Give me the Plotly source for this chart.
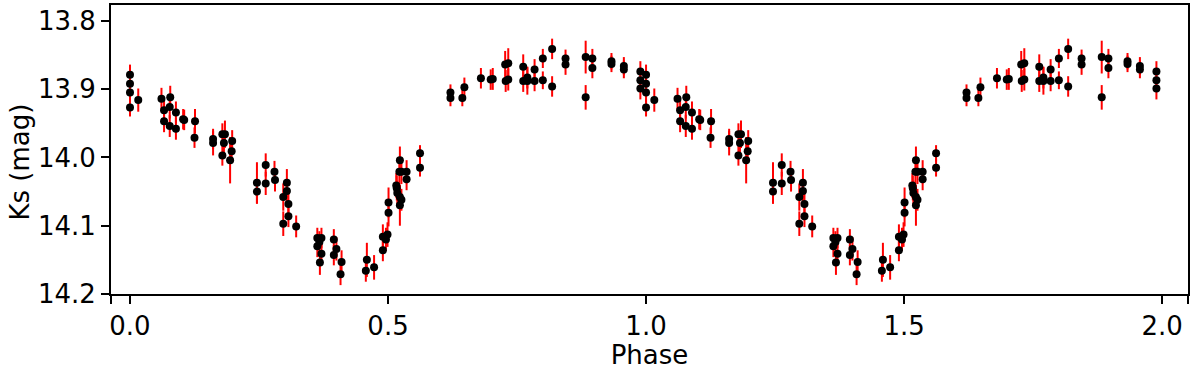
import plotly.graph_objects as go

# Folded light curve: base phase in [0,1), magnitude, error
phase = [0.000, 0.000, 0.000, 0.000, 0.016, 0.061, 0.066, 0.066, 0.078, 0.077,
         0.077, 0.089, 0.089, 0.103, 0.105, 0.126, 0.125, 0.161, 0.161, 0.179,
         0.184, 0.182, 0.179, 0.198, 0.197, 0.194, 0.246, 0.246, 0.263, 0.263,
         0.280, 0.281, 0.304, 0.304, 0.297, 0.307, 0.307, 0.297, 0.322, 0.363,
         0.371, 0.363, 0.367, 0.371, 0.368, 0.395, 0.400, 0.395, 0.410, 0.408,
         0.457, 0.459, 0.473, 0.490, 0.490, 0.496, 0.499, 0.501, 0.501, 0.516,
         0.517, 0.523, 0.522, 0.526, 0.518, 0.523, 0.526, 0.523, 0.536, 0.536,
         0.562, 0.562, 0.621, 0.621, 0.648, 0.644, 0.680, 0.699, 0.703, 0.727,
         0.733, 0.728, 0.733, 0.762, 0.762, 0.770, 0.770, 0.784, 0.784, 0.800,
         0.800, 0.818, 0.818, 0.844, 0.844, 0.883, 0.883, 0.896, 0.896, 0.933,
         0.933, 0.957, 0.957, 0.989, 0.989, 0.989]
mag = [13.879, 13.892, 13.905, 13.927, 13.916, 13.914, 13.931, 13.947, 13.912, 13.926,
       13.954, 13.934, 13.958, 13.944, 13.945, 13.947, 13.971, 13.973, 13.979, 13.966,
       13.966, 13.979, 13.997, 13.976, 13.991, 14.004, 14.037, 14.050, 14.011, 14.038,
       14.021, 14.033, 14.037, 14.049, 14.058, 14.068, 14.086, 14.097, 14.101, 14.118,
       14.118, 14.130, 14.124, 14.141, 14.154, 14.120, 14.134, 14.143, 14.153, 14.171,
       14.166, 14.150, 14.161, 14.116, 14.136, 14.120, 14.113, 14.081, 14.066, 14.041,
       14.045, 14.004, 14.021, 14.021, 14.052, 14.058, 14.062, 14.070, 14.021, 14.032,
       13.994, 14.015, 13.905, 13.913, 13.897, 13.913, 13.884, 13.886, 13.885, 13.864,
       13.862, 13.888, 13.886, 13.867, 13.888, 13.883, 13.888, 13.871, 13.888, 13.855,
       13.887, 13.841, 13.896, 13.855, 13.864, 13.853, 13.912, 13.855, 13.869, 13.859,
       13.863, 13.866, 13.871, 13.874, 13.887, 13.899]
err = [0.015, 0.015, 0.015, 0.013, 0.017, 0.016, 0.016, 0.016, 0.017, 0.017,
       0.016, 0.016, 0.016, 0.015, 0.015, 0.018, 0.015, 0.015, 0.018, 0.016,
       0.020, 0.016, 0.015, 0.016, 0.016, 0.034, 0.030, 0.018, 0.017, 0.017,
       0.016, 0.017, 0.020, 0.018, 0.020, 0.016, 0.016, 0.018, 0.016, 0.015,
       0.015, 0.016, 0.016, 0.016, 0.018, 0.015, 0.017, 0.015, 0.017, 0.016,
       0.016, 0.025, 0.018, 0.018, 0.016, 0.017, 0.018, 0.020, 0.022, 0.018,
       0.018, 0.020, 0.018, 0.018, 0.018, 0.018, 0.016, 0.030, 0.017, 0.016,
       0.012, 0.013, 0.012, 0.012, 0.014, 0.012, 0.015, 0.015, 0.016, 0.020,
       0.022, 0.016, 0.016, 0.018, 0.016, 0.016, 0.020, 0.015, 0.015, 0.014,
       0.013, 0.015, 0.015, 0.013, 0.015, 0.024, 0.018, 0.014, 0.015, 0.012,
       0.012, 0.013, 0.013, 0.015, 0.016, 0.016]

x_ticks = [0.0, 0.5, 1.0, 1.5, 2.0]
x_labels = ["0.0", "0.5", "1.0", "1.5", "2.0"]
y_ticks = [13.8, 13.9, 14.0, 14.1, 14.2]
y_labels = ["13.8", "13.9", "14.0", "14.1", "14.2"]

X_RANGE = [-0.0368, 2.0502]
Y_RANGE = [14.2, 13.7767]

xs = phase + [p + 1 for p in phase]
ys = mag + mag
es = err + err

FONT = dict(family="DejaVu Sans", size=26, color="black")

fig = go.Figure(go.Scatter(
    x=xs, y=ys, mode="markers",
    marker=dict(color="black", size=8),
    error_y=dict(type="data", array=es, visible=True, color="red", thickness=2, width=0),
    showlegend=False,
))

axis_common = dict(showline=True, linecolor="black", linewidth=2, mirror=True,
                   ticks="outside", ticklen=8, tickwidth=1.5, tickcolor="black",
                   showgrid=False, zeroline=False, tickfont=FONT)

# x ticks also drawn at both corners (unlabelled), as in the reference
fig.update_xaxes(range=X_RANGE,
                 tickvals=[X_RANGE[0]] + x_ticks + [X_RANGE[1]],
                 ticktext=[""] + x_labels + [""],
                 title=dict(text="Phase", font=FONT, standoff=2),
                 **axis_common)
fig.update_yaxes(range=Y_RANGE, tickvals=y_ticks, ticktext=y_labels, **axis_common)

fig.add_annotation(text="Ks (mag)", textangle=-90, font=FONT, showarrow=False,
                   xref="paper", yref="paper", x=0, y=0.455,
                   xanchor="center", yanchor="middle", xshift=-91)

fig.update_layout(width=1200, height=370, margin=dict(l=111, r=12, t=3, b=76),
                  plot_bgcolor="white", paper_bgcolor="white")

fig.write_html("out.html", config={"displayModeBar": False},
               post_script="document.body.style.margin='0';")
